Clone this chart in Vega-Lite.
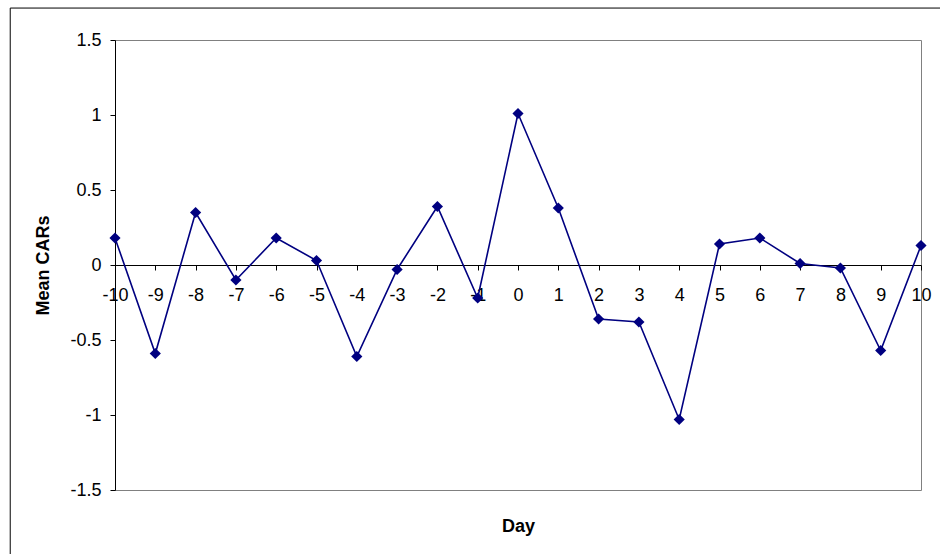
{
  "$schema": "https://vega.github.io/schema/vega-lite/v6.json",
  "width": 806,
  "height": 450,
  "autosize": {"type": "none"},
  "padding": {"left": 115, "top": 40, "right": 19, "bottom": 64},
  "background": "white",
  "config": {
    "view": {"stroke": "#808080", "strokeWidth": 1},
    "font": "Liberation Sans"
  },
  "data": {
    "values": [
      {"day": -10, "car": 0.18},
      {"day": -9, "car": -0.59},
      {"day": -8, "car": 0.35},
      {"day": -7, "car": -0.10},
      {"day": -6, "car": 0.18},
      {"day": -5, "car": 0.03},
      {"day": -4, "car": -0.61},
      {"day": -3, "car": -0.03},
      {"day": -2, "car": 0.39},
      {"day": -1, "car": -0.22},
      {"day": 0, "car": 1.01},
      {"day": 1, "car": 0.38},
      {"day": 2, "car": -0.36},
      {"day": 3, "car": -0.38},
      {"day": 4, "car": -1.03},
      {"day": 5, "car": 0.14},
      {"day": 6, "car": 0.18},
      {"day": 7, "car": 0.01},
      {"day": 8, "car": -0.02},
      {"day": 9, "car": -0.57},
      {"day": 10, "car": 0.13}
    ]
  },
  "layer": [
    {
      "data": {"values": [{}]},
      "mark": {"type": "rect", "fill": null, "stroke": "#000000", "strokeWidth": 1},
      "encoding": {
        "x": {"datum": -12.6, "type": "quantitative"},
        "x2": {"datum": 13},
        "y": {"datum": 1.713, "type": "quantitative"},
        "y2": {"datum": -2.2}
      }
    },
    {
      "mark": {"type": "line", "color": "#000080", "strokeWidth": 1.6},
      "encoding": {
        "x": {
          "field": "day",
          "type": "quantitative",
          "title": "Day",
          "scale": {"domain": [-10, 10], "nice": false, "zero": false},
          "axis": {
            "values": [-10, -9, -8, -7, -6, -5, -4, -3, -2, -1, 0, 1, 2, 3, 4, 5, 6, 7, 8, 9, 10],
            "offset": -225,
            "grid": false,
            "domainColor": "#000000",
            "tickColor": "#000000",
            "tickSize": 5,
            "labelPadding": 16,
            "labelFontSize": 18,
            "labelColor": "#000000",
            "labelFlush": false,
            "labelOverlap": false,
            "labelExpr": "'' + datum.value",
            "titleFontSize": 18,
            "titleFontWeight": "bold",
            "titleColor": "#000000",
            "titleBaseline": "middle",
            "titleY": 261
          }
        },
        "y": {
          "field": "car",
          "type": "quantitative",
          "title": "Mean CARs",
          "scale": {"domain": [-1.5, 1.5], "nice": false, "zero": false},
          "axis": {
            "values": [-1.5, -1, -0.5, 0, 0.5, 1, 1.5],
            "grid": false,
            "domainColor": "#000000",
            "tickColor": "#000000",
            "tickSize": 5,
            "labelPadding": 9,
            "labelFontSize": 18,
            "labelColor": "#000000",
            "labelExpr": "'' + datum.value",
            "titleFontSize": 18,
            "titleFontWeight": "bold",
            "titleColor": "#000000",
            "titleAngle": -90,
            "titleAlign": "center",
            "titleBaseline": "middle",
            "titleX": -71.5,
            "titleY": 225
          }
        }
      }
    },
    {
      "mark": {"type": "point", "shape": "diamond", "filled": true, "size": 125, "color": "#000080", "opacity": 1},
      "encoding": {
        "x": {"field": "day", "type": "quantitative"},
        "y": {"field": "car", "type": "quantitative"}
      }
    }
  ]
}
